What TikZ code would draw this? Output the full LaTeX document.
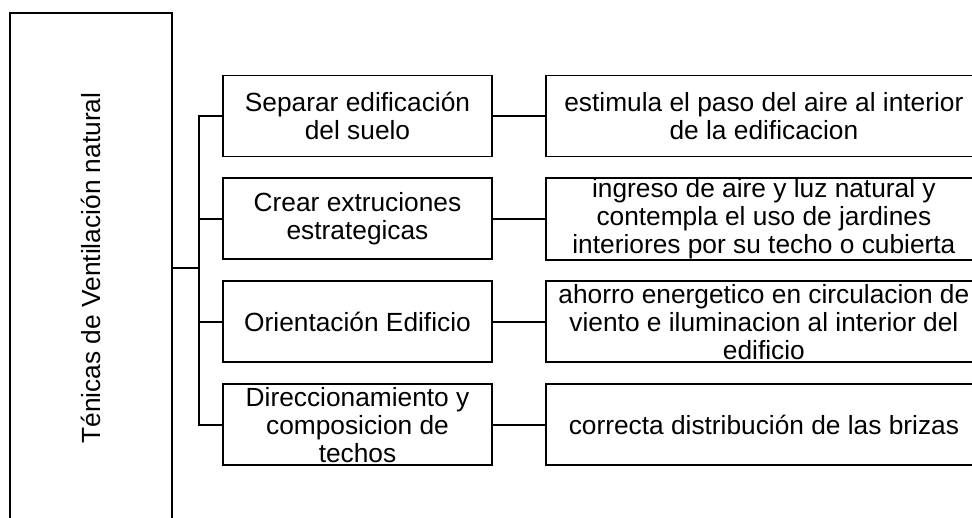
\documentclass[tikz,border=0pt]{standalone}
\usepackage{fontspec}
\setmainfont{Liberation Sans}
\usepackage{tikz}
\usetikzlibrary{positioning}
\newcommand{\tvFont}{\fontsize{26.3}{28}\selectfont}

\begin{document}
\begin{tikzpicture}[x=1pt,y=1pt,node distance=20pt and 52pt,
  box/.style={draw,line width=1.9pt,align=center,font=\tvFont,inner sep=1pt},
  tec/.style={box,rotate=90,minimum width=510pt,minimum height=162pt},
  mid/.style={box,minimum width=269pt,minimum height=81pt},
  res/.style={box,minimum width=436pt,minimum height=81pt},
  line/.style={line width=1.9pt}]
  \useasboundingbox (0,0) rectangle (972,518);
  \clip (0,0) rectangle (972,518);
  \node[tec] (tvn) at (91,250) {Ténicas de Ventilación natural};
  \node[mid] (m1) at (357.5,402) {Separar edificación\\del suelo};
  \node[mid,below=of m1] (m2) {Crear extruciones\\estrategicas};
  \node[mid,below=of m2] (m3) {Orientación Edificio};
  \node[mid,below=of m3] (m4) {Direccionamiento y\\composicion de\\techos};
  \node[res,right=of m1] (r1) {estimula el paso del aire al interior\\de la edificacion};
  \node[res,right=of m2] (r2) {ingreso de aire y luz natural y\\contempla el uso de jardines\\interiores por su techo o cubierta};
  \node[res,right=of m3] (r3) {ahorro energetico en circulacion de\\viento e iluminacion al interior del\\edificio};
  \node[res,right=of m4] (r4) {correcta distribución de las brizas};
  \coordinate (bus) at (199,250);

  \draw[line] (tvn.south) -- (bus);
  \draw[line] (m1.west) -| (bus) |- (m4.west);
  \foreach \i in {2,3}
    \draw[line] (bus |- m\i.west) -- (m\i.west);
  \foreach \i in {1,...,4}
    \draw[line] (m\i) -- (r\i);
\end{tikzpicture}
\end{document}
